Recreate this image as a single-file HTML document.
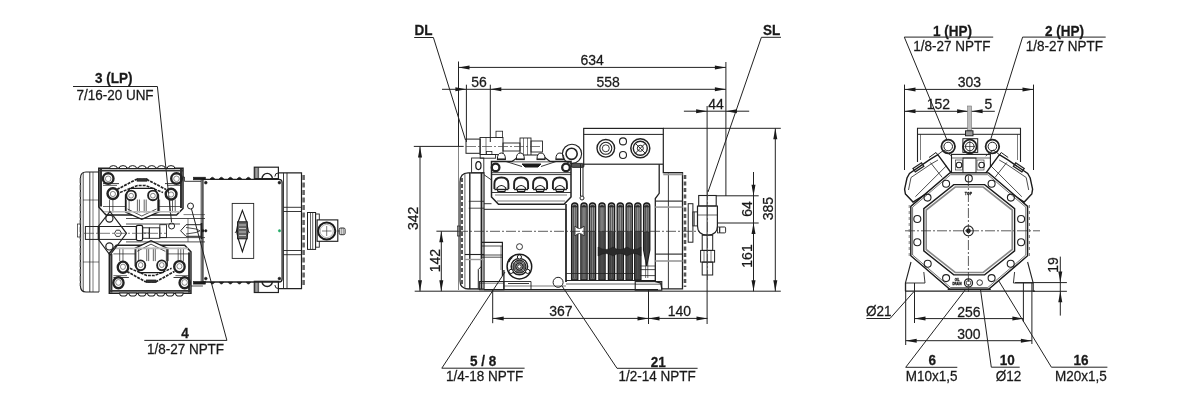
<!DOCTYPE html>
<html><head><meta charset="utf-8"><style>
html,body{margin:0;padding:0;background:#fff;}
svg{display:block;font-family:"Liberation Sans",sans-serif;will-change:transform;}
</style></head><body>
<svg width="1180" height="407" viewBox="0 0 1180 407">
<rect width="1180" height="407" fill="#fff"/>
<text x="0" y="0" transform="translate(95 83.4) scale(1 1.05)" font-size="13.5" font-weight="bold" text-anchor="start" fill="#1a1a1a" stroke="#1a1a1a" stroke-width="0.25">3 (LP)</text>
<line x1="73" y1="86.5" x2="157.4" y2="86.5" stroke="#222" stroke-width="1.0" />
<text x="0" y="0" transform="translate(76.4 99.8) scale(1 1.05)" font-size="13.5" font-weight="normal" text-anchor="start" fill="#1a1a1a" stroke="#1a1a1a" stroke-width="0.25">7/16-20 UNF</text>
<line x1="157.4" y1="86.5" x2="171.5" y2="222" stroke="#222" stroke-width="1.0" />
<circle cx="171.6" cy="226" r="3" stroke="#222" stroke-width="1.0" fill="none"/>
<text x="0" y="0" transform="translate(181.3 338.2) scale(1 1.05)" font-size="13.5" font-weight="bold" text-anchor="start" fill="#1a1a1a" stroke="#1a1a1a" stroke-width="0.25">4</text>
<line x1="144.3" y1="340.4" x2="226.9" y2="340.4" stroke="#222" stroke-width="1.0" />
<text x="0" y="0" transform="translate(146.9 354.1) scale(1 1.05)" font-size="13.5" font-weight="normal" text-anchor="start" fill="#1a1a1a" stroke="#1a1a1a" stroke-width="0.25">1/8-27 NPTF</text>
<line x1="226.9" y1="340.4" x2="191.5" y2="209" stroke="#222" stroke-width="1.0" />
<circle cx="190.5" cy="206" r="3" stroke="#222" stroke-width="1.0" fill="none"/>
<text x="0" y="0" transform="translate(414.6 35.2) scale(1 1.05)" font-size="13.5" font-weight="bold" text-anchor="start" fill="#1a1a1a" stroke="#1a1a1a" stroke-width="0.25">DL</text>
<line x1="414.2" y1="37.5" x2="433.4" y2="37.5" stroke="#222" stroke-width="1.0" />
<line x1="433.4" y1="37.5" x2="465.5" y2="140" stroke="#222" stroke-width="1.0" />
<text x="0" y="0" transform="translate(762.9 35.0) scale(1 1.05)" font-size="13.5" font-weight="bold" text-anchor="start" fill="#1a1a1a" stroke="#1a1a1a" stroke-width="0.25">SL</text>
<line x1="761.4" y1="37.3" x2="781" y2="37.3" stroke="#222" stroke-width="1.0" />
<line x1="761.4" y1="37.3" x2="708" y2="192" stroke="#222" stroke-width="1.0" />
<text x="0" y="0" transform="translate(470 366.1) scale(1 1.05)" font-size="13.5" font-weight="bold" text-anchor="start" fill="#1a1a1a" stroke="#1a1a1a" stroke-width="0.25">5 / 8</text>
<line x1="441.8" y1="368.2" x2="524.6" y2="368.2" stroke="#222" stroke-width="1.0" />
<text x="0" y="0" transform="translate(446 380.8) scale(1 1.05)" font-size="13.5" font-weight="normal" text-anchor="start" fill="#1a1a1a" stroke="#1a1a1a" stroke-width="0.25">1/4-18 NPTF</text>
<line x1="441.8" y1="368.2" x2="505" y2="272" stroke="#222" stroke-width="1.0" />
<text x="0" y="0" transform="translate(650.8 367.0) scale(1 1.05)" font-size="13.5" font-weight="bold" text-anchor="start" fill="#1a1a1a" stroke="#1a1a1a" stroke-width="0.25">21</text>
<line x1="617" y1="368.3" x2="697.6" y2="368.3" stroke="#222" stroke-width="1.0" />
<text x="0" y="0" transform="translate(618.6 380.9) scale(1 1.05)" font-size="13.5" font-weight="normal" text-anchor="start" fill="#1a1a1a" stroke="#1a1a1a" stroke-width="0.25">1/2-14 NPTF</text>
<line x1="617" y1="368.3" x2="562" y2="286" stroke="#222" stroke-width="1.0" />
<line x1="458.5" y1="61.5" x2="458.5" y2="146" stroke="#222" stroke-width="1.0" />
<line x1="458.5" y1="146" x2="458.5" y2="290" stroke="#666" stroke-width="0.8" />
<line x1="725.9" y1="62" x2="725.9" y2="128" stroke="#222" stroke-width="1.0" />
<line x1="458.5" y1="67.4" x2="725.9" y2="67.4" stroke="#222" stroke-width="1.0" />
<path d="M458.5,67.4 L469.5,65.4 L469.5,69.4 Z" fill="#1a1a1a"/>
<path d="M725.9,67.4 L714.9,69.4 L714.9,65.4 Z" fill="#1a1a1a"/>
<text x="0" y="0" transform="translate(580.4 65.2) scale(1 1.05)" font-size="14" font-weight="normal" text-anchor="start" fill="#1a1a1a" stroke="#1a1a1a" stroke-width="0.25">634</text>
<line x1="442" y1="89.3" x2="725.9" y2="89.3" stroke="#222" stroke-width="1.0" />
<path d="M466.4,89.3 L455.4,91.3 L455.4,87.3 Z" fill="#1a1a1a"/>
<path d="M490.3,89.3 L501.3,87.3 L501.3,91.3 Z" fill="#1a1a1a"/>
<path d="M725.9,89.3 L714.9,91.3 L714.9,87.3 Z" fill="#1a1a1a"/>
<line x1="466.4" y1="84.7" x2="466.4" y2="142" stroke="#222" stroke-width="1.0" />
<line x1="490.3" y1="84.7" x2="490.3" y2="142" stroke="#222" stroke-width="1.0" />
<text x="0" y="0" transform="translate(471.2 87.1) scale(1 1.05)" font-size="14" font-weight="normal" text-anchor="start" fill="#1a1a1a" stroke="#1a1a1a" stroke-width="0.25">56</text>
<text x="0" y="0" transform="translate(596.5 87.3) scale(1 1.05)" font-size="14" font-weight="normal" text-anchor="start" fill="#1a1a1a" stroke="#1a1a1a" stroke-width="0.25">558</text>
<line x1="683.9" y1="111.2" x2="749.2" y2="111.2" stroke="#222" stroke-width="1.0" />
<path d="M707.1,111.2 L696.1,113.2 L696.1,109.2 Z" fill="#1a1a1a"/>
<path d="M725.9,111.2 L736.9,109.2 L736.9,113.2 Z" fill="#1a1a1a"/>
<line x1="707.1" y1="106" x2="707.1" y2="324" stroke="#222" stroke-width="1.0" />
<text x="0" y="0" transform="translate(708.2 109.4) scale(1 1.05)" font-size="14" font-weight="normal" text-anchor="start" fill="#1a1a1a" stroke="#1a1a1a" stroke-width="0.25">44</text>
<line x1="725.9" y1="128" x2="725.9" y2="196" stroke="#222" stroke-width="1.0" />
<line x1="663" y1="128.3" x2="780.8" y2="128.3" stroke="#222" stroke-width="1.0" />
<line x1="775.3" y1="128.3" x2="775.3" y2="291.3" stroke="#222" stroke-width="1.0" />
<path d="M775.3,128.3 L777.3,139.3 L773.3,139.3 Z" fill="#1a1a1a"/>
<path d="M775.3,291.3 L773.3,280.3 L777.3,280.3 Z" fill="#1a1a1a"/>
<text x="0" y="0" transform="translate(773 208.7) rotate(-90) scale(1 1.05)" font-size="14" font-weight="normal" text-anchor="middle" fill="#1a1a1a" stroke="#1a1a1a" stroke-width="0.25">385</text>
<line x1="716" y1="195.8" x2="758.7" y2="195.8" stroke="#222" stroke-width="1.0" />
<line x1="717.4" y1="223" x2="758.7" y2="223" stroke="#222" stroke-width="1.0" />
<line x1="753.5" y1="172" x2="753.5" y2="291.3" stroke="#222" stroke-width="1.0" />
<path d="M753.5,195.8 L751.5,184.8 L755.5,184.8 Z" fill="#1a1a1a"/>
<path d="M753.5,223.0 L755.5,234.0 L751.5,234.0 Z" fill="#1a1a1a"/>
<path d="M753.5,291.3 L751.5,280.3 L755.5,280.3 Z" fill="#1a1a1a"/>
<text x="0" y="0" transform="translate(751.6 208.9) rotate(-90) scale(1 1.05)" font-size="14" font-weight="normal" text-anchor="middle" fill="#1a1a1a" stroke="#1a1a1a" stroke-width="0.25">64</text>
<text x="0" y="0" transform="translate(751.6 256.0) rotate(-90) scale(1 1.05)" font-size="14" font-weight="normal" text-anchor="middle" fill="#1a1a1a" stroke="#1a1a1a" stroke-width="0.25">161</text>
<line x1="414.7" y1="291.2" x2="780.8" y2="291.2" stroke="#222" stroke-width="1.0" />
<line x1="413.8" y1="146.4" x2="463.7" y2="146.4" stroke="#222" stroke-width="1.0" />
<line x1="420" y1="146.4" x2="420" y2="291.2" stroke="#222" stroke-width="1.0" />
<path d="M420.0,146.4 L422.0,157.4 L418.0,157.4 Z" fill="#1a1a1a"/>
<path d="M420.0,291.2 L418.0,280.2 L422.0,280.2 Z" fill="#1a1a1a"/>
<text x="0" y="0" transform="translate(418.3 218.4) rotate(-90) scale(1 1.05)" font-size="14" font-weight="normal" text-anchor="middle" fill="#1a1a1a" stroke="#1a1a1a" stroke-width="0.25">342</text>
<line x1="436.4" y1="231.2" x2="458" y2="231.2" stroke="#222" stroke-width="1.0" />
<line x1="441.3" y1="231.2" x2="441.3" y2="291.2" stroke="#222" stroke-width="1.0" />
<path d="M441.3,231.2 L443.3,242.2 L439.3,242.2 Z" fill="#1a1a1a"/>
<path d="M441.3,291.2 L439.3,280.2 L443.3,280.2 Z" fill="#1a1a1a"/>
<text x="0" y="0" transform="translate(440 260.6) rotate(-90) scale(1 1.05)" font-size="14" font-weight="normal" text-anchor="middle" fill="#1a1a1a" stroke="#1a1a1a" stroke-width="0.25">142</text>
<line x1="492.7" y1="289" x2="492.7" y2="323.2" stroke="#222" stroke-width="1.0" />
<line x1="648.5" y1="289" x2="648.5" y2="324" stroke="#222" stroke-width="1.0" />
<line x1="492.7" y1="318.4" x2="707.5" y2="318.4" stroke="#222" stroke-width="1.0" />
<path d="M492.7,318.4 L503.7,316.4 L503.7,320.4 Z" fill="#1a1a1a"/>
<path d="M648.5,318.4 L637.5,320.4 L637.5,316.4 Z" fill="#1a1a1a"/>
<path d="M648.5,318.4 L659.5,316.4 L659.5,320.4 Z" fill="#1a1a1a"/>
<path d="M707.5,318.4 L696.5,320.4 L696.5,316.4 Z" fill="#1a1a1a"/>
<text x="0" y="0" transform="translate(549.2 316.2) scale(1 1.05)" font-size="14" font-weight="normal" text-anchor="start" fill="#1a1a1a" stroke="#1a1a1a" stroke-width="0.25">367</text>
<text x="0" y="0" transform="translate(667.8 316.2) scale(1 1.05)" font-size="14" font-weight="normal" text-anchor="start" fill="#1a1a1a" stroke="#1a1a1a" stroke-width="0.25">140</text>
<text x="0" y="0" transform="translate(933 35.6) scale(1 1.05)" font-size="13.5" font-weight="bold" text-anchor="start" fill="#1a1a1a" stroke="#1a1a1a" stroke-width="0.25">1 (HP)</text>
<line x1="904.3" y1="37.1" x2="993.2" y2="37.1" stroke="#222" stroke-width="1.0" />
<text x="0" y="0" transform="translate(913.3 51.0) scale(1 1.05)" font-size="13.5" font-weight="normal" text-anchor="start" fill="#1a1a1a" stroke="#1a1a1a" stroke-width="0.25">1/8-27 NPTF</text>
<line x1="904.3" y1="37.1" x2="947" y2="140" stroke="#222" stroke-width="1.0" />
<text x="0" y="0" transform="translate(1045 35.6) scale(1 1.05)" font-size="13.5" font-weight="bold" text-anchor="start" fill="#1a1a1a" stroke="#1a1a1a" stroke-width="0.25">2 (HP)</text>
<line x1="1022.6" y1="37.1" x2="1105.7" y2="37.1" stroke="#222" stroke-width="1.0" />
<text x="0" y="0" transform="translate(1025.8 51.0) scale(1 1.05)" font-size="13.5" font-weight="normal" text-anchor="start" fill="#1a1a1a" stroke="#1a1a1a" stroke-width="0.25">1/8-27 NPTF</text>
<line x1="1022.6" y1="37.1" x2="990.5" y2="140" stroke="#222" stroke-width="1.0" />
<line x1="904.5" y1="84.6" x2="904.5" y2="170" stroke="#222" stroke-width="1.0" />
<line x1="1033.5" y1="84.6" x2="1033.5" y2="170" stroke="#222" stroke-width="1.0" />
<line x1="904.5" y1="89.4" x2="1033.5" y2="89.4" stroke="#222" stroke-width="1.0" />
<path d="M904.5,89.4 L915.5,87.4 L915.5,91.4 Z" fill="#1a1a1a"/>
<path d="M1033.5,89.4 L1022.5,91.4 L1022.5,87.4 Z" fill="#1a1a1a"/>
<text x="0" y="0" transform="translate(957.8 87.1) scale(1 1.05)" font-size="14" font-weight="normal" text-anchor="start" fill="#1a1a1a" stroke="#1a1a1a" stroke-width="0.25">303</text>
<line x1="904.5" y1="111.3" x2="994.8" y2="111.3" stroke="#222" stroke-width="1.0" />
<path d="M904.5,111.3 L915.5,109.3 L915.5,113.3 Z" fill="#1a1a1a"/>
<path d="M968.1,111.3 L957.1,113.3 L957.1,109.3 Z" fill="#1a1a1a"/>
<path d="M971.6,111.3 L982.6,109.3 L982.6,113.3 Z" fill="#1a1a1a"/>
<text x="0" y="0" transform="translate(926.8 109.1) scale(1 1.05)" font-size="14" font-weight="normal" text-anchor="start" fill="#1a1a1a" stroke="#1a1a1a" stroke-width="0.25">152</text>
<text x="0" y="0" transform="translate(984.5 109.1) scale(1 1.05)" font-size="14" font-weight="normal" text-anchor="start" fill="#1a1a1a" stroke="#1a1a1a" stroke-width="0.25">5</text>
<text x="0" y="0" transform="translate(865.9 316.1) scale(1 1.05)" font-size="13.5" font-weight="normal" text-anchor="start" fill="#1a1a1a" stroke="#1a1a1a" stroke-width="0.25">Ø21</text>
<line x1="866.4" y1="318.5" x2="890" y2="318.5" stroke="#222" stroke-width="1.0" />
<line x1="890" y1="318.5" x2="914" y2="291.5" stroke="#222" stroke-width="1.0" />
<line x1="905.7" y1="283" x2="905.7" y2="345" stroke="#222" stroke-width="1.0" />
<line x1="914.5" y1="283" x2="914.5" y2="323" stroke="#222" stroke-width="1.0" />
<line x1="1023.4" y1="283" x2="1023.4" y2="322" stroke="#222" stroke-width="1.0" />
<line x1="1031.9" y1="283" x2="1031.9" y2="344" stroke="#222" stroke-width="1.0" />
<line x1="914.5" y1="318.6" x2="1023.4" y2="318.6" stroke="#222" stroke-width="1.0" />
<path d="M914.5,318.6 L925.5,316.6 L925.5,320.6 Z" fill="#1a1a1a"/>
<path d="M1023.4,318.6 L1012.4,320.6 L1012.4,316.6 Z" fill="#1a1a1a"/>
<text x="0" y="0" transform="translate(957.3 317.0) scale(1 1.05)" font-size="14" font-weight="normal" text-anchor="start" fill="#1a1a1a" stroke="#1a1a1a" stroke-width="0.25">256</text>
<line x1="905.7" y1="340.7" x2="1031.9" y2="340.7" stroke="#222" stroke-width="1.0" />
<path d="M905.7,340.7 L916.7,338.7 L916.7,342.7 Z" fill="#1a1a1a"/>
<path d="M1031.9,340.7 L1020.9,342.7 L1020.9,338.7 Z" fill="#1a1a1a"/>
<text x="0" y="0" transform="translate(957.3 338.8) scale(1 1.05)" font-size="14" font-weight="normal" text-anchor="start" fill="#1a1a1a" stroke="#1a1a1a" stroke-width="0.25">300</text>
<text x="0" y="0" transform="translate(928.4 365.4) scale(1 1.05)" font-size="13.5" font-weight="bold" text-anchor="start" fill="#1a1a1a" stroke="#1a1a1a" stroke-width="0.25">6</text>
<line x1="905.7" y1="367.3" x2="957.3" y2="367.3" stroke="#222" stroke-width="1.0" />
<text x="0" y="0" transform="translate(905.7 380.9) scale(1 1.05)" font-size="13.5" font-weight="normal" text-anchor="start" fill="#1a1a1a" stroke="#1a1a1a" stroke-width="0.25">M10x1,5</text>
<line x1="905.7" y1="367.3" x2="969" y2="285" stroke="#222" stroke-width="1.0" />
<text x="0" y="0" transform="translate(999.8 365.0) scale(1 1.05)" font-size="13.5" font-weight="bold" text-anchor="start" fill="#1a1a1a" stroke="#1a1a1a" stroke-width="0.25">10</text>
<line x1="991.3" y1="367.2" x2="1019.7" y2="367.2" stroke="#222" stroke-width="1.0" />
<text x="0" y="0" transform="translate(995.8 381.2) scale(1 1.05)" font-size="13.5" font-weight="normal" text-anchor="start" fill="#1a1a1a" stroke="#1a1a1a" stroke-width="0.25">Ø12</text>
<line x1="991.3" y1="367.2" x2="980" y2="286" stroke="#222" stroke-width="1.0" />
<text x="0" y="0" transform="translate(1073.5 365.0) scale(1 1.05)" font-size="13.5" font-weight="bold" text-anchor="start" fill="#1a1a1a" stroke="#1a1a1a" stroke-width="0.25">16</text>
<line x1="1051.4" y1="367.2" x2="1107.4" y2="367.2" stroke="#222" stroke-width="1.0" />
<text x="0" y="0" transform="translate(1055.1 381.2) scale(1 1.05)" font-size="13.5" font-weight="normal" text-anchor="start" fill="#1a1a1a" stroke="#1a1a1a" stroke-width="0.25">M20x1,5</text>
<line x1="1051.4" y1="367.2" x2="969" y2="232" stroke="#222" stroke-width="1.0" />
<line x1="1015" y1="282.6" x2="1066.9" y2="282.6" stroke="#222" stroke-width="1.0" />
<line x1="1033" y1="291.3" x2="1066.9" y2="291.3" stroke="#222" stroke-width="1.0" />
<line x1="1060.3" y1="256.6" x2="1060.3" y2="315.6" stroke="#222" stroke-width="1.0" />
<path d="M1060.3,282.6 L1058.3,271.6 L1062.3,271.6 Z" fill="#1a1a1a"/>
<path d="M1060.3,291.3 L1062.3,302.3 L1058.3,302.3 Z" fill="#1a1a1a"/>
<text x="0" y="0" transform="translate(1057.9 265.0) rotate(-90) scale(1 1.05)" font-size="14" font-weight="normal" text-anchor="middle" fill="#1a1a1a" stroke="#1a1a1a" stroke-width="0.25">19</text>
<path d="M468,172.8 L484,172.8 L484,289 L468,289" stroke="#222" stroke-width="1.2" fill="none" />
<path d="M468,172.8 Q460,173 460,182 L460,281 Q460,288.5 468,289" stroke="#222" stroke-width="1.2" fill="none" />
<line x1="461.9" y1="178" x2="461.9" y2="284" stroke="#555" stroke-width="2.2" stroke-dasharray="4,2"/>
<line x1="464.9" y1="174" x2="464.9" y2="288" stroke="#222" stroke-width="0.7" />
<line x1="469.8" y1="172.8" x2="469.8" y2="289" stroke="#222" stroke-width="1.4" />
<line x1="481.5" y1="172.8" x2="481.5" y2="289" stroke="#222" stroke-width="1.8" />
<line x1="468.8" y1="201.3" x2="484" y2="201.3" stroke="#222" stroke-width="0.8" />
<line x1="468.8" y1="208.2" x2="484" y2="208.2" stroke="#222" stroke-width="0.8" />
<line x1="464.9" y1="254.5" x2="484" y2="254.5" stroke="#222" stroke-width="1.1" />
<line x1="464.9" y1="259.5" x2="484" y2="259.5" stroke="#999" stroke-width="1.4" />
<line x1="464.9" y1="288.8" x2="478" y2="288.8" stroke="#222" stroke-width="0.9" />
<rect x="457.5" y="226" width="2.5" height="10" rx="0" stroke="#222" stroke-width="0.7" fill="none" />
<rect x="471.6" y="158" width="12.2" height="14.8" rx="0" stroke="#222" stroke-width="0.9" fill="none" />
<ellipse cx="478.4" cy="165.6" rx="2.6" ry="4" stroke="#1a1a1a" stroke-width="1.2" fill="none"/>
<rect x="466" y="139.1" width="14.2" height="14.2" rx="0" stroke="#222" stroke-width="1.0" fill="none" />
<rect x="480" y="137.5" width="23" height="17" rx="0" stroke="#222" stroke-width="0.9" fill="none" />
<line x1="486" y1="137.5" x2="486" y2="154.5" stroke="#222" stroke-width="0.6" />
<rect x="496" y="131.2" width="6.6" height="6.3" rx="0" stroke="#222" stroke-width="0.8" fill="none" />
<rect x="503" y="143" width="17" height="8" rx="0" stroke="#222" stroke-width="0.9" fill="none" />
<rect x="520" y="138" width="11" height="18" rx="0" stroke="#222" stroke-width="0.9" fill="none" />
<line x1="523.5" y1="138" x2="523.5" y2="156" stroke="#222" stroke-width="0.6" />
<line x1="527.5" y1="138" x2="527.5" y2="156" stroke="#222" stroke-width="0.6" />
<rect x="531" y="141" width="11.5" height="11" rx="0" stroke="#222" stroke-width="0.9" fill="none" />
<line x1="466" y1="146.5" x2="541" y2="146.5" stroke="#444" stroke-width="0.7" stroke-dasharray="10,2,2,2"/>
<rect x="480.2" y="154.5" width="15.4" height="3.7" rx="0" stroke="#222" stroke-width="0.9" fill="none" />
<rect x="486.4" y="151.4" width="5.5" height="3.1" rx="0" stroke="#222" stroke-width="0.8" fill="none" />
<path d="M491.5,161.5 L571,161.5 L571,197 L564,204.2 L498.5,204.2 L491.5,197 Z" stroke="#222" stroke-width="1.5" fill="none" />
<line x1="491.5" y1="172.7" x2="571" y2="172.7" stroke="#222" stroke-width="0.9" />
<line x1="491.5" y1="174.6" x2="571" y2="174.6" stroke="#222" stroke-width="0.9" />
<line x1="491.5" y1="192.5" x2="571" y2="192.5" stroke="#222" stroke-width="0.9" />
<line x1="495" y1="195" x2="567" y2="195" stroke="#222" stroke-width="0.6" />
<line x1="497" y1="201" x2="565" y2="201" stroke="#222" stroke-width="0.6" />
<path d="M512,161.5 L521,155 L541.8,155 L550,161.5" stroke="#1a1a1a" stroke-width="1.1" fill="#fff" />
<path d="M522,164 L541,164 L538,167 L525,167 Z" stroke="#1a1a1a" stroke-width="1" fill="#1a1a1a" />
<path d="M506,161.5 L522,166.5 M556,161.5 L541,166.5" stroke="#222" stroke-width="0.9" fill="none" />
<path d="M497.4,159 Q497.4,153 501.4,153 Q505.4,153 505.4,159 Z" stroke="#1a1a1a" stroke-width="1" fill="#fff" />
<line x1="496.9" y1="159.5" x2="505.9" y2="159.5" stroke="#222" stroke-width="1.2" />
<path d="M516.3,159 Q516.3,153 520.3,153 Q524.3,153 524.3,159 Z" stroke="#1a1a1a" stroke-width="1" fill="#fff" />
<line x1="515.8" y1="159.5" x2="524.8" y2="159.5" stroke="#222" stroke-width="1.2" />
<path d="M537,159 Q537,153 541,153 Q545,153 545,159 Z" stroke="#1a1a1a" stroke-width="1" fill="#fff" />
<line x1="536.5" y1="159.5" x2="545.5" y2="159.5" stroke="#222" stroke-width="1.2" />
<path d="M555.9,159 Q555.9,153 559.9,153 Q563.9,153 563.9,159 Z" stroke="#1a1a1a" stroke-width="1" fill="#fff" />
<line x1="555.4" y1="159.5" x2="564.4" y2="159.5" stroke="#222" stroke-width="1.2" />
<circle cx="495.6" cy="167.4" r="3.8" stroke="#222" stroke-width="2.3" fill="none"/>
<circle cx="566" cy="167.4" r="3.8" stroke="#222" stroke-width="2.3" fill="none"/>
<path d="M494.4,189 L494.4,184 Q494.4,177.5 501.4,177.5 Q508.4,177.5 508.4,184 L508.4,189" stroke="#222" stroke-width="1.9" fill="none" />
<path d="M496.9,188 Q501.4,183 505.9,188 L504.9,191.5 L497.9,191.5 Z" stroke="#1a1a1a" stroke-width="1.1" fill="#fff" />
<line x1="494.4" y1="189.5" x2="508.4" y2="189.5" stroke="#222" stroke-width="1.4" />
<path d="M514.1,189 L514.1,184 Q514.1,177.5 521.1,177.5 Q528.1,177.5 528.1,184 L528.1,189" stroke="#222" stroke-width="1.9" fill="none" />
<path d="M516.6,188 Q521.1,183 525.6,188 L524.6,191.5 L517.6,191.5 Z" stroke="#1a1a1a" stroke-width="1.1" fill="#fff" />
<line x1="514.1" y1="189.5" x2="528.1" y2="189.5" stroke="#222" stroke-width="1.4" />
<path d="M533.1,189 L533.1,184 Q533.1,177.5 540.1,177.5 Q547.1,177.5 547.1,184 L547.1,189" stroke="#222" stroke-width="1.9" fill="none" />
<path d="M535.6,188 Q540.1,183 544.6,188 L543.6,191.5 L536.6,191.5 Z" stroke="#1a1a1a" stroke-width="1.1" fill="#fff" />
<line x1="533.1" y1="189.5" x2="547.1" y2="189.5" stroke="#222" stroke-width="1.4" />
<path d="M552.9,189 L552.9,184 Q552.9,177.5 559.9,177.5 Q566.9,177.5 566.9,184 L566.9,189" stroke="#222" stroke-width="1.9" fill="none" />
<path d="M555.4,188 Q559.9,183 564.4,188 L563.4,191.5 L556.4,191.5 Z" stroke="#1a1a1a" stroke-width="1.1" fill="#fff" />
<line x1="552.9" y1="189.5" x2="566.9" y2="189.5" stroke="#222" stroke-width="1.4" />
<path d="M484,174.7 L491.5,180" stroke="#222" stroke-width="0.9" fill="none" />
<circle cx="572" cy="153.8" r="9.6" stroke="#222" stroke-width="1.1" fill="none"/>
<circle cx="571.6" cy="153.8" r="5.6" stroke="#222" stroke-width="1.6" fill="none"/>
<rect x="571.4" y="163.4" width="12.6" height="4" rx="1.5" stroke="#1a1a1a" stroke-width="0.8" fill="#555" />
<line x1="484" y1="203.7" x2="491.5" y2="203.7" stroke="#222" stroke-width="0.9" />
<line x1="484" y1="209.3" x2="566" y2="209.3" stroke="#222" stroke-width="1" />
<line x1="484" y1="289.6" x2="658" y2="289.6" stroke="#222" stroke-width="1.3" />
<path d="M481.8,242.4 L502.4,242.4 L502.4,276" stroke="#222" stroke-width="1.2" fill="none" />
<line x1="481.8" y1="246" x2="502.4" y2="246" stroke="#222" stroke-width="0.8" />
<line x1="481.8" y1="255" x2="502.4" y2="255" stroke="#222" stroke-width="0.8" />
<line x1="481.8" y1="257.2" x2="502.4" y2="257.2" stroke="#222" stroke-width="0.8" />
<line x1="501" y1="246" x2="501" y2="270" stroke="#222" stroke-width="0.6" />
<path d="M481.8,266 L478.3,269.5 L478.3,289.6" stroke="#222" stroke-width="1.0" fill="none" />
<rect x="479.6" y="281.5" width="24.3" height="8.3" rx="0" stroke="#222" stroke-width="1.0" fill="none" />
<line x1="479.6" y1="283.2" x2="503.9" y2="283.2" stroke="#222" stroke-width="0.6" />
<line x1="503.9" y1="270" x2="503.9" y2="290" stroke="#222" stroke-width="1.3" />
<circle cx="519.4" cy="266.6" r="12.3" stroke="#1a1a1a" stroke-width="1.5" fill="#fff"/>
<circle cx="519.4" cy="266.6" r="8.2" stroke="#222" stroke-width="1.5" fill="none"/>
<circle cx="519.4" cy="266.6" r="6.5" stroke="#1a1a1a" stroke-width="1" fill="#666"/>
<path d="M514.5,262 L524.3,271.2 M524.3,262 L514.5,271.2" stroke="#ccc" stroke-width="0.8" fill="none" />
<circle cx="519.4" cy="266.6" r="3.6" stroke="#1a1a1a" stroke-width="0.9" fill="#999"/>
<circle cx="519.4" cy="266.6" r="1.8" stroke="#1a1a1a" stroke-width="0.8" fill="#fff"/>
<circle cx="519.4" cy="257.0" r="2.1" stroke="#1a1a1a" stroke-width="1.0" fill="#fff"/>
<circle cx="511.08615612366935" cy="271.40000000000003" r="2.1" stroke="#1a1a1a" stroke-width="1.0" fill="#fff"/>
<circle cx="527.7138438763305" cy="271.40000000000003" r="2.1" stroke="#1a1a1a" stroke-width="1.0" fill="#fff"/>
<path d="M508.5,262 A11,11 0 0 1 512,257" stroke="#222" stroke-width="2.2" fill="none" />
<circle cx="519.5" cy="246.7" r="3" stroke="#222" stroke-width="0.9" fill="none"/>
<circle cx="558.1" cy="282.3" r="5" stroke="#222" stroke-width="1" fill="none"/>
<path d="M504,281.5 L531,281.5 L531,289.6 M508,283.5 L529,283.5" stroke="#222" stroke-width="0.9" fill="none" />
<line x1="504" y1="286" x2="566" y2="286" stroke="#222" stroke-width="0.6" />
<rect x="583.7" y="128.4" width="79.6" height="35.8" rx="0" stroke="#222" stroke-width="1.2" fill="none" />
<line x1="583.7" y1="134.4" x2="663.3" y2="134.4" stroke="#222" stroke-width="1" />
<line x1="580.5" y1="164.2" x2="580.5" y2="196" stroke="#222" stroke-width="1.0" />
<line x1="583" y1="164.2" x2="583" y2="196" stroke="#222" stroke-width="1.0" />
<circle cx="582" cy="198" r="2" stroke="#222" stroke-width="1.0" fill="none"/>
<circle cx="605.8" cy="148.3" r="8.8" stroke="#222" stroke-width="1.4" fill="none"/>
<circle cx="605.8" cy="148.3" r="6" stroke="#222" stroke-width="1.1" fill="none"/>
<circle cx="605.8" cy="148.3" r="3.5" stroke="#222" stroke-width="0.9" fill="none"/>
<circle cx="640.3" cy="148.3" r="9.5" stroke="#222" stroke-width="1.5" fill="none"/>
<circle cx="640.3" cy="148.3" r="7" stroke="#222" stroke-width="1.4" fill="none"/>
<circle cx="640.3" cy="148.3" r="3" stroke="#222" stroke-width="1" fill="none"/>
<path d="M635.3,143.3 L645.3,153.3 M645.3,143.3 L635.3,153.3" stroke="#222" stroke-width="0.9" fill="none" />
<circle cx="623" cy="141.4" r="3.5" stroke="#222" stroke-width="1.1" fill="none"/>
<circle cx="623" cy="155" r="3.5" stroke="#222" stroke-width="1.1" fill="none"/>
<line x1="566" y1="209.3" x2="566" y2="282" stroke="#222" stroke-width="0.9" />
<path d="M571.6,280 L571.6,206 Q571.6,203 574.7,203 Q577.8000000000001,203 577.8000000000001,206 L577.8000000000001,280 Z" stroke="#1a1a1a" stroke-width="1.3" fill="#9a9a9a" />
<path d="M572.3000000000001,231.5 L572.3000000000001,279 L577.1,279 L577.1,231.5 Z" stroke="#1a1a1a" stroke-width="0.4" fill="#7a7a7a" />
<line x1="573.6" y1="207" x2="573.6" y2="278" stroke="#333" stroke-width="0.7" />
<line x1="575.8000000000001" y1="207" x2="575.8000000000001" y2="278" stroke="#333" stroke-width="0.7" />
<path d="M572.1,207 Q574.7,203.3 577.3000000000001,207 Z" stroke="#1a1a1a" stroke-width="0.5" fill="#333" />
<path d="M580.9,280 L580.9,206 Q580.9,203 584,203 Q587.1,203 587.1,206 L587.1,280 Z" stroke="#1a1a1a" stroke-width="1.3" fill="#9a9a9a" />
<path d="M581.6,231.5 L581.6,279 L586.4,279 L586.4,231.5 Z" stroke="#1a1a1a" stroke-width="0.4" fill="#7a7a7a" />
<line x1="582.9" y1="207" x2="582.9" y2="278" stroke="#333" stroke-width="0.7" />
<line x1="585.1" y1="207" x2="585.1" y2="278" stroke="#333" stroke-width="0.7" />
<path d="M581.4,207 Q584,203.3 586.6,207 Z" stroke="#1a1a1a" stroke-width="0.5" fill="#333" />
<path d="M589.4,280 L589.4,206 Q589.4,203 592.5,203 Q595.6,203 595.6,206 L595.6,280 Z" stroke="#1a1a1a" stroke-width="1.3" fill="#9a9a9a" />
<path d="M590.1,231.5 L590.1,279 L594.9,279 L594.9,231.5 Z" stroke="#1a1a1a" stroke-width="0.4" fill="#7a7a7a" />
<line x1="591.4" y1="207" x2="591.4" y2="278" stroke="#333" stroke-width="0.7" />
<line x1="593.6" y1="207" x2="593.6" y2="278" stroke="#333" stroke-width="0.7" />
<path d="M589.9,207 Q592.5,203.3 595.1,207 Z" stroke="#1a1a1a" stroke-width="0.5" fill="#333" />
<path d="M598.9,280 L598.9,206 Q598.9,203 602,203 Q605.1,203 605.1,206 L605.1,280 Z" stroke="#1a1a1a" stroke-width="1.3" fill="#9a9a9a" />
<path d="M599.6,231.5 L599.6,279 L604.4,279 L604.4,231.5 Z" stroke="#1a1a1a" stroke-width="0.4" fill="#555" />
<line x1="600.9" y1="207" x2="600.9" y2="278" stroke="#333" stroke-width="0.7" />
<line x1="603.1" y1="207" x2="603.1" y2="278" stroke="#333" stroke-width="0.7" />
<path d="M599.4,207 Q602,203.3 604.6,207 Z" stroke="#1a1a1a" stroke-width="0.5" fill="#333" />
<path d="M608.4,280 L608.4,206 Q608.4,203 611.5,203 Q614.6,203 614.6,206 L614.6,280 Z" stroke="#1a1a1a" stroke-width="1.3" fill="#9a9a9a" />
<path d="M609.1,231.5 L609.1,279 L613.9,279 L613.9,231.5 Z" stroke="#1a1a1a" stroke-width="0.4" fill="#555" />
<line x1="610.4" y1="207" x2="610.4" y2="278" stroke="#333" stroke-width="0.7" />
<line x1="612.6" y1="207" x2="612.6" y2="278" stroke="#333" stroke-width="0.7" />
<path d="M608.9,207 Q611.5,203.3 614.1,207 Z" stroke="#1a1a1a" stroke-width="0.5" fill="#333" />
<path d="M617.1999999999999,280 L617.1999999999999,206 Q617.1999999999999,203 620.3,203 Q623.4,203 623.4,206 L623.4,280 Z" stroke="#1a1a1a" stroke-width="1.3" fill="#9a9a9a" />
<path d="M617.9,231.5 L617.9,279 L622.6999999999999,279 L622.6999999999999,231.5 Z" stroke="#1a1a1a" stroke-width="0.4" fill="#555" />
<line x1="619.1999999999999" y1="207" x2="619.1999999999999" y2="278" stroke="#333" stroke-width="0.7" />
<line x1="621.4" y1="207" x2="621.4" y2="278" stroke="#333" stroke-width="0.7" />
<path d="M617.6999999999999,207 Q620.3,203.3 622.9,207 Z" stroke="#1a1a1a" stroke-width="0.5" fill="#333" />
<path d="M626.1,280 L626.1,206 Q626.1,203 629.2,203 Q632.3000000000001,203 632.3000000000001,206 L632.3000000000001,280 Z" stroke="#1a1a1a" stroke-width="1.3" fill="#9a9a9a" />
<path d="M626.8000000000001,231.5 L626.8000000000001,279 L631.6,279 L631.6,231.5 Z" stroke="#1a1a1a" stroke-width="0.4" fill="#555" />
<line x1="628.1" y1="207" x2="628.1" y2="278" stroke="#333" stroke-width="0.7" />
<line x1="630.3000000000001" y1="207" x2="630.3000000000001" y2="278" stroke="#333" stroke-width="0.7" />
<path d="M626.6,207 Q629.2,203.3 631.8000000000001,207 Z" stroke="#1a1a1a" stroke-width="0.5" fill="#333" />
<path d="M634.6999999999999,280 L634.6999999999999,206 Q634.6999999999999,203 637.8,203 Q640.9,203 640.9,206 L640.9,280 Z" stroke="#1a1a1a" stroke-width="1.3" fill="#9a9a9a" />
<path d="M635.4,231.5 L635.4,279 L640.1999999999999,279 L640.1999999999999,231.5 Z" stroke="#1a1a1a" stroke-width="0.4" fill="#555" />
<line x1="636.6999999999999" y1="207" x2="636.6999999999999" y2="278" stroke="#333" stroke-width="0.7" />
<line x1="638.9" y1="207" x2="638.9" y2="278" stroke="#333" stroke-width="0.7" />
<path d="M635.1999999999999,207 Q637.8,203.3 640.4,207 Z" stroke="#1a1a1a" stroke-width="0.5" fill="#333" />
<path d="M643.6,250 L643.6,206 Q643.6,203 646.7,203 Q649.8000000000001,203 649.8000000000001,206 L649.8000000000001,250 L646.7,266 Z" stroke="#1a1a1a" stroke-width="1.3" fill="#8c8c8c" />
<path d="M644.3000000000001,232 L644.3000000000001,250 L646.7,263 L649.1,250 L649.1,232 Z" stroke="#1a1a1a" stroke-width="0.5" fill="#4a4a4a" />
<line x1="645.6" y1="207" x2="645.6" y2="278" stroke="#333" stroke-width="0.7" />
<line x1="647.8000000000001" y1="207" x2="647.8000000000001" y2="278" stroke="#333" stroke-width="0.7" />
<path d="M644.1,207 Q646.7,203.3 649.3000000000001,207 Z" stroke="#1a1a1a" stroke-width="0.5" fill="#333" />
<path d="M598,247 Q606,252 613,247 Q620,252 627,247 Q634,252 641,247 L641,256 Q634,251 627,256 Q620,251 613,256 Q606,251 598,256 Z" stroke="#1a1a1a" stroke-width="0.5" fill="#2a2a2a" />
<line x1="640" y1="266" x2="655" y2="266" stroke="#222" stroke-width="0.7" />
<line x1="566" y1="204" x2="566" y2="282" stroke="#222" stroke-width="1.6" />
<line x1="566" y1="273.5" x2="634" y2="273.5" stroke="#222" stroke-width="0.8" />
<line x1="566" y1="280.5" x2="656" y2="280.5" stroke="#222" stroke-width="1.2" />
<line x1="566" y1="284" x2="636" y2="284" stroke="#222" stroke-width="0.7" />
<rect x="635.2" y="281.6" width="26.6" height="8.6" rx="0" stroke="#222" stroke-width="1.1" fill="none" />
<line x1="635.2" y1="284.2" x2="661.8" y2="284.2" stroke="#222" stroke-width="0.7" />
<line x1="640" y1="269.6" x2="655.3" y2="269.6" stroke="#222" stroke-width="0.8" />
<line x1="640" y1="275.6" x2="655.3" y2="275.6" stroke="#222" stroke-width="0.8" />
<path d="M575,226 Q579.4,231 584,226 L584,236 Q579.4,231 575,236 Z" stroke="#1a1a1a" stroke-width="0.8" fill="#fff" />
<path d="M659.2,164.2 L659.2,193.4 L655.3,198.5 L655.3,281.6 L660.8,283 L661.8,288.8 L682.5,288.8 L682.5,172.7 L663.3,172.7 L663.3,164.2" stroke="#222" stroke-width="1.3" fill="none" />
<line x1="668.4" y1="172.7" x2="668.4" y2="288.8" stroke="#222" stroke-width="0.9" />
<line x1="663.3" y1="174.3" x2="682.5" y2="174.3" stroke="#999" stroke-width="2.0" />
<line x1="685" y1="175" x2="685" y2="287" stroke="#555" stroke-width="2.6" stroke-dasharray="4,2.5"/>
<line x1="655.3" y1="201.1" x2="682.5" y2="201.1" stroke="#222" stroke-width="1.1" />
<line x1="655.3" y1="207.1" x2="682.5" y2="207.1" stroke="#999" stroke-width="1.6" />
<line x1="655.3" y1="254.1" x2="682.5" y2="254.1" stroke="#222" stroke-width="1.1" />
<line x1="655.3" y1="261" x2="682.5" y2="261" stroke="#999" stroke-width="1.6" />
<rect x="688.2" y="203.7" width="4.7" height="38.5" rx="0" stroke="#222" stroke-width="1.0" fill="none" />
<rect x="692.9" y="211.9" width="4.6" height="14" rx="0" stroke="#222" stroke-width="0.9" fill="none" />
<line x1="694.5" y1="211.9" x2="694.5" y2="225.9" stroke="#222" stroke-width="0.6" />
<rect x="698.7" y="195.5" width="17.5" height="10.5" rx="0" stroke="#222" stroke-width="1.1" fill="none" />
<path d="M697.5,206 L697.5,226 Q697.5,235.2 707.5,235.2 Q717.4,235.2 717.4,226 L717.4,206 Z" stroke="#222" stroke-width="1.2" fill="none" />
<line x1="697.5" y1="215" x2="717.4" y2="215" stroke="#222" stroke-width="0.7" />
<rect x="717.4" y="227" width="2.3" height="5.9" rx="0" stroke="#222" stroke-width="0.8" fill="none" />
<rect x="719.7" y="227" width="5.9" height="5.9" rx="1" stroke="#1a1a1a" stroke-width="0.9" fill="none" />
<rect x="702.2" y="235.2" width="10.5" height="15.2" rx="0" stroke="#222" stroke-width="1.0" fill="none" />
<rect x="700.6" y="250.4" width="14" height="11.7" rx="0" stroke="#222" stroke-width="1.0" fill="none" />
<line x1="704" y1="250.4" x2="704" y2="262.1" stroke="#222" stroke-width="0.6" />
<line x1="711" y1="250.4" x2="711" y2="262.1" stroke="#222" stroke-width="0.6" />
<rect x="702.2" y="262.1" width="10.5" height="12.9" rx="0" stroke="#222" stroke-width="1.0" fill="none" />
<line x1="707.5" y1="190" x2="707.5" y2="280" stroke="#444" stroke-width="0.7" stroke-dasharray="10,2,2,2"/>
<line x1="458" y1="231.3" x2="700" y2="231.3" stroke="#333" stroke-width="0.8" stroke-dasharray="10,2,2,2"/>
<path d="M99,172 L86,172 Q80.5,172 80.5,178 L80.5,286 Q80.5,292 86,292 L99,292" stroke="#222" stroke-width="1.2" fill="none" />
<line x1="80.4" y1="178" x2="80.4" y2="286" stroke="#555" stroke-width="1.4" stroke-dasharray="5,2"/>
<line x1="83.2" y1="172.5" x2="83.2" y2="291.5" stroke="#222" stroke-width="0.8" />
<line x1="89.8" y1="172" x2="89.8" y2="292" stroke="#222" stroke-width="0.9" />
<line x1="93" y1="172" x2="93" y2="292" stroke="#222" stroke-width="0.6" />
<rect x="77.5" y="224" width="3" height="13" rx="0" stroke="#222" stroke-width="0.7" fill="none" />
<line x1="83" y1="200" x2="99" y2="200" stroke="#222" stroke-width="0.6" />
<line x1="83" y1="262" x2="99" y2="262" stroke="#222" stroke-width="0.6" />
<path d="M98.8,168.3 L183,168.3 L183,208.5 L176.5,215 L106,215 L98.8,207 Z" stroke="#222" stroke-width="1.5" fill="none" />
<line x1="100.9" y1="169" x2="100.9" y2="206.5" stroke="#333" stroke-width="2.2" />
<line x1="181" y1="169" x2="181" y2="208" stroke="#333" stroke-width="2.0" />
<line x1="99" y1="170.6" x2="183" y2="170.6" stroke="#333" stroke-width="1.8" />
<path d="M109.4,168.6 Q109.4,165.6 113.4,165.6 Q117.4,165.6 117.4,168.6 Z" stroke="#1a1a1a" stroke-width="1.0" fill="#fff" />
<path d="M119.0,168.6 Q119.0,165.6 123.0,165.6 Q127.0,165.6 127.0,168.6 Z" stroke="#1a1a1a" stroke-width="1.0" fill="#fff" />
<path d="M128.6,168.6 Q128.6,165.6 132.6,165.6 Q136.6,165.6 136.6,168.6 Z" stroke="#1a1a1a" stroke-width="1.0" fill="#fff" />
<path d="M138.2,168.6 Q138.2,165.6 142.2,165.6 Q146.2,165.6 146.2,168.6 Z" stroke="#1a1a1a" stroke-width="1.0" fill="#fff" />
<path d="M147.8,168.6 Q147.8,165.6 151.8,165.6 Q155.8,165.6 155.8,168.6 Z" stroke="#1a1a1a" stroke-width="1.0" fill="#fff" />
<path d="M157.4,168.6 Q157.4,165.6 161.4,165.6 Q165.4,165.6 165.4,168.6 Z" stroke="#1a1a1a" stroke-width="1.0" fill="#fff" />
<path d="M167.0,168.6 Q167.0,165.6 171.0,165.6 Q175.0,165.6 175.0,168.6 Z" stroke="#1a1a1a" stroke-width="1.0" fill="#fff" />
<circle cx="108.2" cy="178.5" r="5.3" stroke="#222" stroke-width="2.4" fill="none"/>
<circle cx="108.2" cy="178.8" r="2.8" stroke="#555" stroke-width="0.7" fill="#fff"/>
<circle cx="176.5" cy="178.5" r="5.3" stroke="#222" stroke-width="2.4" fill="none"/>
<circle cx="176.5" cy="178.8" r="2.8" stroke="#555" stroke-width="0.7" fill="#fff"/>
<line x1="103" y1="183.6" x2="119" y2="183.6" stroke="#222" stroke-width="0.9" />
<line x1="103" y1="185.4" x2="117" y2="185.4" stroke="#222" stroke-width="0.7" />
<line x1="165" y1="183.6" x2="181" y2="183.6" stroke="#222" stroke-width="0.9" />
<line x1="167" y1="185.4" x2="181" y2="185.4" stroke="#222" stroke-width="0.7" />
<path d="M117,189.5 L136,179.5 L147,179.5 L166,189.5" stroke="#222" stroke-width="1.7" fill="none" stroke-dasharray="3,1"/>
<path d="M120,192.5 L137.5,185.5 L145.5,185.5 L163,192.5" stroke="#222" stroke-width="1.5" fill="none" stroke-dasharray="3,1"/>
<rect x="137" y="178.6" width="10" height="2.6" rx="0" stroke="#1a1a1a" stroke-width="0.6" fill="#333" />
<path d="M125.5,200 L125.5,195 L130,188.3 L154,188.3 L158.5,195 L158.5,212 L141.8,219.3 L125.5,212 Z" stroke="#1a1a1a" stroke-width="1.3" fill="#fff" />
<circle cx="112.9" cy="193.6" r="5.4" stroke="#222" stroke-width="2.4" fill="none"/>
<circle cx="112.9" cy="194.0" r="2.6" stroke="#555" stroke-width="0.7" fill="#fff"/>
<circle cx="171.1" cy="194.1" r="5.4" stroke="#222" stroke-width="2.4" fill="none"/>
<circle cx="171.1" cy="194.5" r="2.6" stroke="#555" stroke-width="0.7" fill="#fff"/>
<circle cx="131.1" cy="195.4" r="4.8" stroke="#222" stroke-width="1.9" fill="none"/>
<circle cx="131.1" cy="195.70000000000002" r="2.4" stroke="#555" stroke-width="0.7" fill="#fff"/>
<circle cx="152.9" cy="195.4" r="4.8" stroke="#222" stroke-width="1.9" fill="none"/>
<circle cx="152.9" cy="195.70000000000002" r="2.4" stroke="#555" stroke-width="0.7" fill="#fff"/>
<path d="M127.5,209 L141.8,216 L156.5,209" stroke="#222" stroke-width="0.8" fill="none" />
<line x1="109.5" y1="199.5" x2="109.5" y2="212.5" stroke="#222" stroke-width="0.7" />
<line x1="112.9" y1="199.5" x2="112.9" y2="212.5" stroke="#222" stroke-width="0.7" />
<line x1="126.4" y1="199.5" x2="126.4" y2="212.5" stroke="#222" stroke-width="0.7" />
<line x1="129.1" y1="199.5" x2="129.1" y2="212.5" stroke="#222" stroke-width="0.7" />
<line x1="137.4" y1="199.5" x2="137.4" y2="212.5" stroke="#222" stroke-width="0.7" />
<line x1="139.4" y1="199.5" x2="139.4" y2="212.5" stroke="#222" stroke-width="0.7" />
<line x1="144.2" y1="199.5" x2="144.2" y2="212.5" stroke="#222" stroke-width="0.7" />
<line x1="146.2" y1="199.5" x2="146.2" y2="212.5" stroke="#222" stroke-width="0.7" />
<line x1="157.6" y1="199.5" x2="157.6" y2="212.5" stroke="#222" stroke-width="0.7" />
<line x1="159.6" y1="199.5" x2="159.6" y2="212.5" stroke="#222" stroke-width="0.7" />
<line x1="169.8" y1="199.5" x2="169.8" y2="212.5" stroke="#222" stroke-width="0.7" />
<line x1="172.5" y1="199.5" x2="172.5" y2="212.5" stroke="#222" stroke-width="0.7" />
<line x1="175.2" y1="199.5" x2="175.2" y2="212.5" stroke="#222" stroke-width="0.7" />
<line x1="103" y1="206.5" x2="125.5" y2="206.5" stroke="#222" stroke-width="0.7" />
<line x1="158.5" y1="206.5" x2="181" y2="206.5" stroke="#222" stroke-width="0.7" />
<line x1="104" y1="211.8" x2="180" y2="211.8" stroke="#bbb" stroke-width="1.6" />
<g transform="matrix(0.97,0,0,-1.03,13.46,466.6)">
<path d="M98.8,168.3 L183,168.3 L183,208.5 L176.5,215 L106,215 L98.8,207 Z" stroke="#222" stroke-width="1.5" fill="none" />
<line x1="100.9" y1="169" x2="100.9" y2="206.5" stroke="#333" stroke-width="2.2" />
<line x1="181" y1="169" x2="181" y2="208" stroke="#333" stroke-width="2.0" />
<line x1="99" y1="170.6" x2="183" y2="170.6" stroke="#333" stroke-width="1.8" />
<path d="M109.4,168.6 Q109.4,165.6 113.4,165.6 Q117.4,165.6 117.4,168.6 Z" stroke="#1a1a1a" stroke-width="1.0" fill="#fff" />
<path d="M119.0,168.6 Q119.0,165.6 123.0,165.6 Q127.0,165.6 127.0,168.6 Z" stroke="#1a1a1a" stroke-width="1.0" fill="#fff" />
<path d="M128.6,168.6 Q128.6,165.6 132.6,165.6 Q136.6,165.6 136.6,168.6 Z" stroke="#1a1a1a" stroke-width="1.0" fill="#fff" />
<path d="M138.2,168.6 Q138.2,165.6 142.2,165.6 Q146.2,165.6 146.2,168.6 Z" stroke="#1a1a1a" stroke-width="1.0" fill="#fff" />
<path d="M147.8,168.6 Q147.8,165.6 151.8,165.6 Q155.8,165.6 155.8,168.6 Z" stroke="#1a1a1a" stroke-width="1.0" fill="#fff" />
<path d="M157.4,168.6 Q157.4,165.6 161.4,165.6 Q165.4,165.6 165.4,168.6 Z" stroke="#1a1a1a" stroke-width="1.0" fill="#fff" />
<path d="M167.0,168.6 Q167.0,165.6 171.0,165.6 Q175.0,165.6 175.0,168.6 Z" stroke="#1a1a1a" stroke-width="1.0" fill="#fff" />
<circle cx="108.2" cy="178.5" r="5.3" stroke="#222" stroke-width="2.4" fill="none"/>
<circle cx="108.2" cy="178.8" r="2.8" stroke="#555" stroke-width="0.7" fill="#fff"/>
<circle cx="176.5" cy="178.5" r="5.3" stroke="#222" stroke-width="2.4" fill="none"/>
<circle cx="176.5" cy="178.8" r="2.8" stroke="#555" stroke-width="0.7" fill="#fff"/>
<line x1="103" y1="183.6" x2="119" y2="183.6" stroke="#222" stroke-width="0.9" />
<line x1="103" y1="185.4" x2="117" y2="185.4" stroke="#222" stroke-width="0.7" />
<line x1="165" y1="183.6" x2="181" y2="183.6" stroke="#222" stroke-width="0.9" />
<line x1="167" y1="185.4" x2="181" y2="185.4" stroke="#222" stroke-width="0.7" />
<path d="M117,189.5 L136,179.5 L147,179.5 L166,189.5" stroke="#222" stroke-width="1.7" fill="none" stroke-dasharray="3,1"/>
<path d="M120,192.5 L137.5,185.5 L145.5,185.5 L163,192.5" stroke="#222" stroke-width="1.5" fill="none" stroke-dasharray="3,1"/>
<rect x="137" y="178.6" width="10" height="2.6" rx="0" stroke="#1a1a1a" stroke-width="0.6" fill="#333" />
<path d="M125.5,200 L125.5,195 L130,188.3 L154,188.3 L158.5,195 L158.5,212 L141.8,219.3 L125.5,212 Z" stroke="#1a1a1a" stroke-width="1.3" fill="#fff" />
<circle cx="112.9" cy="193.6" r="5.4" stroke="#222" stroke-width="2.4" fill="none"/>
<circle cx="112.9" cy="194.0" r="2.6" stroke="#555" stroke-width="0.7" fill="#fff"/>
<circle cx="171.1" cy="194.1" r="5.4" stroke="#222" stroke-width="2.4" fill="none"/>
<circle cx="171.1" cy="194.5" r="2.6" stroke="#555" stroke-width="0.7" fill="#fff"/>
<circle cx="131.1" cy="195.4" r="4.8" stroke="#222" stroke-width="1.9" fill="none"/>
<circle cx="131.1" cy="195.70000000000002" r="2.4" stroke="#555" stroke-width="0.7" fill="#fff"/>
<circle cx="152.9" cy="195.4" r="4.8" stroke="#222" stroke-width="1.9" fill="none"/>
<circle cx="152.9" cy="195.70000000000002" r="2.4" stroke="#555" stroke-width="0.7" fill="#fff"/>
<path d="M127.5,209 L141.8,216 L156.5,209" stroke="#222" stroke-width="0.8" fill="none" />
<line x1="109.5" y1="199.5" x2="109.5" y2="212.5" stroke="#222" stroke-width="0.7" />
<line x1="112.9" y1="199.5" x2="112.9" y2="212.5" stroke="#222" stroke-width="0.7" />
<line x1="126.4" y1="199.5" x2="126.4" y2="212.5" stroke="#222" stroke-width="0.7" />
<line x1="129.1" y1="199.5" x2="129.1" y2="212.5" stroke="#222" stroke-width="0.7" />
<line x1="137.4" y1="199.5" x2="137.4" y2="212.5" stroke="#222" stroke-width="0.7" />
<line x1="139.4" y1="199.5" x2="139.4" y2="212.5" stroke="#222" stroke-width="0.7" />
<line x1="144.2" y1="199.5" x2="144.2" y2="212.5" stroke="#222" stroke-width="0.7" />
<line x1="146.2" y1="199.5" x2="146.2" y2="212.5" stroke="#222" stroke-width="0.7" />
<line x1="157.6" y1="199.5" x2="157.6" y2="212.5" stroke="#222" stroke-width="0.7" />
<line x1="159.6" y1="199.5" x2="159.6" y2="212.5" stroke="#222" stroke-width="0.7" />
<line x1="169.8" y1="199.5" x2="169.8" y2="212.5" stroke="#222" stroke-width="0.7" />
<line x1="172.5" y1="199.5" x2="172.5" y2="212.5" stroke="#222" stroke-width="0.7" />
<line x1="175.2" y1="199.5" x2="175.2" y2="212.5" stroke="#222" stroke-width="0.7" />
<line x1="103" y1="206.5" x2="125.5" y2="206.5" stroke="#222" stroke-width="0.7" />
<line x1="158.5" y1="206.5" x2="181" y2="206.5" stroke="#222" stroke-width="0.7" />
<line x1="104" y1="211.8" x2="180" y2="211.8" stroke="#bbb" stroke-width="1.6" />
</g>
<rect x="85.4" y="226.5" width="13.6" height="12.9" rx="0" stroke="#222" stroke-width="1" fill="none" />
<path d="M110,211.5 L126.5,233.3 L110,255 L98.3,239.4 L98.3,226.5 Z" stroke="#222" stroke-width="1.2" fill="none" />
<line x1="98.3" y1="233.3" x2="98.3" y2="226.5" stroke="#222" stroke-width="1" />
<circle cx="109.4" cy="218.6" r="3.6" stroke="#222" stroke-width="1.2" fill="none"/>
<circle cx="109.4" cy="246.4" r="3.6" stroke="#222" stroke-width="1.2" fill="none"/>
<rect x="99" y="226.5" width="37.4" height="12.9" rx="0" stroke="#222" stroke-width="1" fill="none" />
<path d="M114.5,233.3 L116.3,230.2 L119.7,230.2 L121.5,233.3 L119.7,236.4 L116.3,236.4 Z" stroke="#222" stroke-width="0.9" fill="none" />
<rect x="136.4" y="225.3" width="6.2" height="15.3" rx="1.5" stroke="#1a1a1a" stroke-width="1.3" fill="#fff" />
<rect x="142.6" y="227.8" width="6.7" height="10.5" rx="0" stroke="#222" stroke-width="0.9" fill="none" />
<line x1="142.6" y1="233" x2="149.3" y2="233" stroke="#222" stroke-width="0.7" />
<rect x="149.3" y="227.8" width="10.5" height="10.5" rx="0" stroke="#222" stroke-width="0.9" fill="none" />
<rect x="159.8" y="224.7" width="6.7" height="12.9" rx="0" stroke="#222" stroke-width="0.9" fill="none" />
<line x1="84" y1="233.3" x2="166" y2="233.3" stroke="#444" stroke-width="0.7" stroke-dasharray="10,2,2,2"/>
<line x1="126" y1="218.5" x2="205" y2="218.5" stroke="#222" stroke-width="0.8" />
<line x1="126" y1="224" x2="180" y2="224" stroke="#222" stroke-width="0.8" />
<line x1="160" y1="237.6" x2="205" y2="237.6" stroke="#222" stroke-width="0.8" />
<line x1="126" y1="241.9" x2="205" y2="241.9" stroke="#222" stroke-width="0.8" />
<line x1="183.5" y1="214.6" x2="205" y2="214.6" stroke="#222" stroke-width="0.6" />
<path d="M201.5,224.7 L186,224.7 L180.6,230.8 L186,236.3 L201.5,236.3" stroke="#222" stroke-width="1" fill="none" />
<path d="M186,227.5 L196,229 L200,230.8 L196,232.5 L186,234" stroke="#222" stroke-width="0.8" fill="none" />
<line x1="201.5" y1="223" x2="201.5" y2="239" stroke="#222" stroke-width="1.8" />
<circle cx="205.8" cy="230.8" r="1.2" stroke="#1a1a1a" stroke-width="0.5" fill="#1a1a1a"/>
<line x1="99" y1="172" x2="99" y2="292" stroke="#222" stroke-width="0.8" />
<path d="M183,177 L184.4,177 L184.4,181.3 L201.2,181.3" stroke="#222" stroke-width="0.9" fill="none" />
<line x1="191" y1="286" x2="202.9" y2="286" stroke="#222" stroke-width="0.8" />
<line x1="188" y1="218.5" x2="188" y2="241.9" stroke="#222" stroke-width="0.6" />
<path d="M202.9,179.3 L279,179.3 Q282.1,179.3 282.1,182.5 L282.1,279 Q282.1,282 279,282 L202.9,282 Z" stroke="#222" stroke-width="1.3" fill="none" />
<line x1="201.2" y1="179.3" x2="201.2" y2="282" stroke="#222" stroke-width="0.9" />
<path d="M210.1,179 Q212.4,175.5 214.70000000000002,179 Z" stroke="#1a1a1a" stroke-width="0.6" fill="#1a1a1a" />
<path d="M219.1,179 Q221.4,175.5 223.70000000000002,179 Z" stroke="#1a1a1a" stroke-width="0.6" fill="#1a1a1a" />
<path d="M228.1,179 Q230.4,175.5 232.70000000000002,179 Z" stroke="#1a1a1a" stroke-width="0.6" fill="#1a1a1a" />
<path d="M237.1,179 Q239.4,175.5 241.70000000000002,179 Z" stroke="#1a1a1a" stroke-width="0.6" fill="#1a1a1a" />
<path d="M246.1,179 Q248.4,175.5 250.70000000000002,179 Z" stroke="#1a1a1a" stroke-width="0.6" fill="#1a1a1a" />
<rect x="193.4" y="177.2" width="12" height="2.6" rx="0" stroke="#1a1a1a" stroke-width="0.6" fill="#1a1a1a" />
<circle cx="205.8" cy="182.7" r="1.4" stroke="#1a1a1a" stroke-width="0.5" fill="#1a1a1a"/>
<circle cx="279.4" cy="182.7" r="1.4" stroke="#1a1a1a" stroke-width="0.5" fill="#1a1a1a"/>
<circle cx="205.8" cy="278.6" r="1.4" stroke="#1a1a1a" stroke-width="0.5" fill="#1a1a1a"/>
<circle cx="279.4" cy="278.6" r="1.4" stroke="#1a1a1a" stroke-width="0.5" fill="#1a1a1a"/>
<path d="M210.1,282.3 Q212.4,285.8 214.70000000000002,282.3 Z" stroke="#1a1a1a" stroke-width="0.6" fill="#1a1a1a" />
<path d="M219.1,282.3 Q221.4,285.8 223.70000000000002,282.3 Z" stroke="#1a1a1a" stroke-width="0.6" fill="#1a1a1a" />
<path d="M228.1,282.3 Q230.4,285.8 232.70000000000002,282.3 Z" stroke="#1a1a1a" stroke-width="0.6" fill="#1a1a1a" />
<path d="M237.1,282.3 Q239.4,285.8 241.70000000000002,282.3 Z" stroke="#1a1a1a" stroke-width="0.6" fill="#1a1a1a" />
<path d="M246.1,282.3 Q248.4,285.8 250.70000000000002,282.3 Z" stroke="#1a1a1a" stroke-width="0.6" fill="#1a1a1a" />
<rect x="193.4" y="281.5" width="12" height="2.6" rx="0" stroke="#1a1a1a" stroke-width="0.6" fill="#1a1a1a" />
<circle cx="202.9" cy="230.8" r="1.2" stroke="#1a1a1a" stroke-width="0.5" fill="#1a1a1a"/>
<circle cx="279.5" cy="230.8" r="1.2" stroke="#2a6" stroke-width="0.5" fill="#2a6"/>
<rect x="232.2" y="203.4" width="21.5" height="55" rx="0" stroke="#222" stroke-width="0.9" fill="none" />
<path d="M242.4,210.4 L246.5,221.5 L248.3,231 L246.5,239 L242.4,251.6 L238.3,239 L236.5,231 L238.3,221.5 Z" stroke="#1a1a1a" stroke-width="1.1" fill="none" />
<rect x="237.6" y="221.8" width="9.6" height="17" rx="0" stroke="#1a1a1a" stroke-width="1.0" fill="#666" />
<path d="M239,225 L246,225 M239,228.5 L246,228.5 M239,232 L246,232 M239,235.5 L246,235.5" stroke="#ddd" stroke-width="0.8" fill="none" />
<path d="M236.5,231 L235,233 M248.3,231 L249.8,233" stroke="#222" stroke-width="0.8" fill="none" />
<rect x="254.3" y="167.2" width="24.1" height="11.400000000000006" rx="0" stroke="#222" stroke-width="1.2" fill="none" />
<line x1="255.8" y1="167.2" x2="255.8" y2="178.6" stroke="#222" stroke-width="0.8" />
<line x1="257.2" y1="167.2" x2="257.2" y2="178.6" stroke="#222" stroke-width="0.8" />
<line x1="258.6" y1="167.2" x2="258.6" y2="178.6" stroke="#222" stroke-width="0.8" />
<path d="M262,178.6 A5.2,5.2 0 0 1 272.4,178.6" stroke="#222" stroke-width="1.4" fill="none" />
<rect x="254.3" y="281.3" width="24.1" height="11.199999999999989" rx="0" stroke="#222" stroke-width="1.2" fill="none" />
<line x1="255.8" y1="281.3" x2="255.8" y2="292.5" stroke="#222" stroke-width="0.8" />
<line x1="257.2" y1="281.3" x2="257.2" y2="292.5" stroke="#222" stroke-width="0.8" />
<line x1="258.6" y1="281.3" x2="258.6" y2="292.5" stroke="#222" stroke-width="0.8" />
<path d="M262,281.3 A5.2,5.2 0 0 0 272.4,281.3" stroke="#222" stroke-width="1.4" fill="none" />
<path d="M278.5,172.9 L301.5,172.9 L301.5,288.6 L278.5,288.6" stroke="#222" stroke-width="1.2" fill="none" />
<path d="M278.5,172.9 Q274.9,172.9 274.9,176.5 M278.5,288.6 Q274.9,288.6 274.9,285" stroke="#222" stroke-width="1.0" fill="none" />
<line x1="283.5" y1="172.9" x2="283.5" y2="288.6" stroke="#222" stroke-width="0.9" />
<line x1="287" y1="172.9" x2="287" y2="288.6" stroke="#222" stroke-width="0.9" />
<line x1="303.6" y1="175" x2="303.6" y2="286" stroke="#666" stroke-width="2.6" stroke-dasharray="5,2.5"/>
<line x1="283.5" y1="207.3" x2="301.5" y2="207.3" stroke="#222" stroke-width="0.9" />
<line x1="283.5" y1="211.5" x2="301.5" y2="211.5" stroke="#222" stroke-width="0.9" />
<line x1="283.5" y1="250.5" x2="301.5" y2="250.5" stroke="#222" stroke-width="0.9" />
<line x1="283.5" y1="254.7" x2="301.5" y2="254.7" stroke="#222" stroke-width="0.9" />
<rect x="307.5" y="212.5" width="8.1" height="36.9" rx="0" stroke="#222" stroke-width="1.0" fill="none" />
<line x1="310.5" y1="212.5" x2="310.5" y2="249.4" stroke="#222" stroke-width="0.7" />
<line x1="312.7" y1="212.5" x2="312.7" y2="249.4" stroke="#222" stroke-width="0.7" />
<rect x="315.6" y="214" width="3.7" height="33.2" rx="0" stroke="#222" stroke-width="0.9" fill="none" />
<rect x="317.1" y="219.9" width="20.7" height="21.4" rx="0" stroke="#1a1a1a" stroke-width="1.1" fill="#fff" />
<circle cx="326.7" cy="231" r="8.6" stroke="#1a1a1a" stroke-width="2.0" fill="#fff"/>
<circle cx="326.7" cy="231" r="6.6" stroke="#777" stroke-width="0.6" fill="none"/>
<line x1="326.7" y1="226" x2="326.7" y2="236" stroke="#222" stroke-width="0.6" />
<line x1="322" y1="231" x2="331.5" y2="231" stroke="#222" stroke-width="0.6" />
<rect x="339.2" y="228" width="5.9" height="6.7" rx="1.5" stroke="#1a1a1a" stroke-width="0.9" fill="#fff" />
<line x1="337.8" y1="231" x2="339.2" y2="231" stroke="#222" stroke-width="0.8" />
<line x1="341.2" y1="228" x2="341.2" y2="234.7" stroke="#222" stroke-width="0.6" />
<line x1="343.2" y1="228" x2="343.2" y2="234.7" stroke="#222" stroke-width="0.6" />
<path d="M917.5,162 L917.5,128.3 L1020.5,128.3 L1020.5,162" stroke="#222" stroke-width="1.1" fill="none" />
<line x1="917.5" y1="134.3" x2="1020.5" y2="134.3" stroke="#222" stroke-width="1" />
<line x1="920.5" y1="134.3" x2="920.5" y2="160" stroke="#222" stroke-width="0.6" />
<line x1="1017.5" y1="134.3" x2="1017.5" y2="160" stroke="#222" stroke-width="0.6" />
<rect x="967.6" y="106" width="4" height="25" rx="0" stroke="#777" stroke-width="0.6" fill="#bbb" />
<rect x="965.5" y="130.8" width="7.5" height="5" rx="0" stroke="#1a1a1a" stroke-width="0.9" fill="#999" />
<rect x="962.9" y="138.7" width="14.8" height="13.7" rx="0" stroke="#222" stroke-width="1" fill="none" />
<circle cx="948.2" cy="146.5" r="6.8" stroke="#222" stroke-width="1.8" fill="none"/>
<circle cx="948.2" cy="146.5" r="4.3" stroke="#222" stroke-width="1" fill="none"/>
<circle cx="969.8" cy="146.5" r="6.8" stroke="#222" stroke-width="1.8" fill="none"/>
<circle cx="969.8" cy="146.5" r="4.3" stroke="#222" stroke-width="1" fill="none"/>
<circle cx="992.4" cy="146.5" r="6.8" stroke="#222" stroke-width="1.8" fill="none"/>
<circle cx="992.4" cy="146.5" r="4.3" stroke="#222" stroke-width="1" fill="none"/>
<line x1="969.8" y1="141" x2="969.8" y2="152" stroke="#222" stroke-width="0.7" />
<line x1="964.5" y1="146.5" x2="975" y2="146.5" stroke="#222" stroke-width="0.7" />
<rect x="951.5" y="154.4" width="38.9" height="18.7" rx="0" stroke="#222" stroke-width="1.1" fill="none" />
<line x1="951.5" y1="158" x2="990.4" y2="158" stroke="#222" stroke-width="0.7" />
<rect x="963" y="158" width="13" height="15" rx="0" stroke="#222" stroke-width="0.9" fill="none" />
<circle cx="959" cy="165" r="2.8" stroke="#222" stroke-width="1.1" fill="none"/>
<circle cx="981.6" cy="165" r="2.8" stroke="#222" stroke-width="1.1" fill="none"/>
<rect x="955.5" y="160" width="7" height="10" rx="0" stroke="#222" stroke-width="0.6" fill="none" />
<rect x="977" y="160" width="7" height="10" rx="0" stroke="#222" stroke-width="0.6" fill="none" />
<path d="M905.4,194.0 L904.6,189.2 L907.0,178.0 L909.5,173.5 L929.7,159.7 L937.8,154.6 L952.0,174.0 L945.0,182.0 L913.0,202.0 Z" stroke="#1a1a1a" stroke-width="1.4" fill="#fff" />
<path d="M908.5,190.0 L911.0,177.5 L931.0,164.0 L938.0,160.0" stroke="#222" stroke-width="0.8" fill="none" />
<path d="M946.4,165.8 L915.4,196.7" stroke="#222" stroke-width="0.8" fill="none" />
<path d="M930.4,162.5 L942.2,177.4" stroke="#222" stroke-width="0.8" fill="none" />
<path d="M913.0,168.5 L921.5,162.8 L923.8,166.2 L915.3,171.9 Z" stroke="#222" stroke-width="1.3" fill="none" />
<path d="M929.0,157.5 L936.0,152.5 L938.5,156.0" stroke="#222" stroke-width="1.0" fill="none" />
<path d="M905.4,194.0 L913.0,202.0" stroke="#222" stroke-width="0.9" fill="none" />
<path d="M937.8,154.6 L944.0,150.0 L951.5,156.0" stroke="#222" stroke-width="0.9" fill="none" />
<path d="M1031.8,194.0 L1032.6,189.2 L1030.2,178.0 L1027.7,173.5 L1007.5,159.7 L999.4,154.6 L985.2,174.0 L992.2,182.0 L1024.2,202.0 Z" stroke="#1a1a1a" stroke-width="1.4" fill="#fff" />
<path d="M1028.7,190.0 L1026.2,177.5 L1006.2,164.0 L999.2,160.0" stroke="#222" stroke-width="0.8" fill="none" />
<path d="M990.8,165.8 L1021.8,196.7" stroke="#222" stroke-width="0.8" fill="none" />
<path d="M1006.8,162.5 L995.0,177.4" stroke="#222" stroke-width="0.8" fill="none" />
<path d="M1024.2,168.5 L1015.7,162.8 L1013.4,166.2 L1021.9,171.9 Z" stroke="#222" stroke-width="1.3" fill="none" />
<path d="M1008.2,157.5 L1001.2,152.5 L998.7,156.0" stroke="#222" stroke-width="1.0" fill="none" />
<path d="M1031.8,194.0 L1024.2,202.0" stroke="#222" stroke-width="0.9" fill="none" />
<path d="M999.4,154.6 L993.2,150.0 L985.7,156.0" stroke="#222" stroke-width="0.9" fill="none" />
<path d="M949.8,172.9 L988.5999999999999,172.9 L1027.6,206.4 L1027.6,255.8 L988.5999999999999,289.3 L949.8,289.3 L910.8,255.8 L910.8,206.4 Z" stroke="#1a1a1a" stroke-width="1.4" fill="#fff" />
<path d="M950.6,174.7 L987.8,174.7 L1025.8,207.2 L1025.8,255.0 L987.8,287.5 L950.6,287.5 L912.6,255.0 L912.6,207.2 Z" stroke="#1a1a1a" stroke-width="0.6" fill="none" />
<path d="M953.8,184.6 L984.6,184.6 L1014.6,208.6 L1014.6,250.89999999999998 L984.6,274.9 L953.8,274.9 L923.8,250.89999999999998 L923.8,208.6 Z" stroke="#1a1a1a" stroke-width="1.4" fill="none" />
<path d="M955.2,187 L983.2,187 L1012.2,210 L1012.2,249.5 L983.2,272.5 L955.2,272.5 L926.2,249.5 L926.2,210 Z" stroke="#888" stroke-width="1.6" fill="none" />
<circle cx="968.8" cy="178.4" r="3.5" stroke="#222" stroke-width="1.1" fill="none"/>
<circle cx="946.1" cy="183.7" r="3.5" stroke="#222" stroke-width="1.1" fill="none"/>
<circle cx="991.6" cy="183.7" r="3.5" stroke="#222" stroke-width="1.1" fill="none"/>
<circle cx="927.5" cy="197.6" r="3.5" stroke="#222" stroke-width="1.1" fill="none"/>
<circle cx="1010.9" cy="197.6" r="3.5" stroke="#222" stroke-width="1.1" fill="none"/>
<circle cx="917.3" cy="219" r="3.5" stroke="#222" stroke-width="1.1" fill="none"/>
<circle cx="1021.1" cy="219" r="3.5" stroke="#222" stroke-width="1.1" fill="none"/>
<circle cx="917.3" cy="242.2" r="3.5" stroke="#222" stroke-width="1.1" fill="none"/>
<circle cx="1021.1" cy="242.2" r="3.5" stroke="#222" stroke-width="1.1" fill="none"/>
<circle cx="927.7" cy="263.8" r="3.5" stroke="#222" stroke-width="1.1" fill="none"/>
<circle cx="1010.7" cy="263.8" r="3.5" stroke="#222" stroke-width="1.1" fill="none"/>
<circle cx="946.1" cy="278.1" r="3.5" stroke="#222" stroke-width="1.1" fill="none"/>
<circle cx="991.6" cy="278.1" r="3.5" stroke="#222" stroke-width="1.1" fill="none"/>
<circle cx="968.4000000000001" cy="230.8" r="4.9" stroke="#222" stroke-width="1.1" fill="none"/>
<circle cx="968.4000000000001" cy="230.8" r="2" stroke="#1a1a1a" stroke-width="0.8" fill="#1a1a1a"/>
<line x1="905" y1="230.8" x2="1040" y2="230.8" stroke="#333" stroke-width="0.8" stroke-dasharray="10,2,2,2"/>
<line x1="968.4" y1="176" x2="968.4" y2="292" stroke="#333" stroke-width="0.8" stroke-dasharray="10,2,2,2"/>
<text x="0" y="0" transform="translate(968.4 195.4) scale(1 1.05)" font-size="3.5" font-weight="bold" text-anchor="middle" fill="#1a1a1a" stroke="#1a1a1a" stroke-width="0.25">TOP</text>
<circle cx="968.5" cy="282.9" r="4" stroke="#222" stroke-width="1.3" fill="none"/>
<circle cx="968.5" cy="282.9" r="2.3" stroke="#222" stroke-width="0.8" fill="none"/>
<circle cx="979.7" cy="282.6" r="2.8" stroke="#222" stroke-width="0.9" fill="none"/>
<text x="0" y="0" transform="translate(957 281.4) scale(1 1.05)" font-size="2.8" font-weight="bold" text-anchor="middle" fill="#1a1a1a" stroke="#1a1a1a" stroke-width="0.25">OIL</text>
<text x="0" y="0" transform="translate(957 284.9) scale(1 1.05)" font-size="2.8" font-weight="bold" text-anchor="middle" fill="#1a1a1a" stroke="#1a1a1a" stroke-width="0.25">DRAIN</text>
<path d="M911,262 L905.4,283 L905.4,291.2" stroke="#222" stroke-width="1.1" fill="none" />
<path d="M923.8,272 L925,283 L905.4,283" stroke="#222" stroke-width="0.9" fill="none" />
<path d="M1027.6,262 L1033.2,283 L1033.2,291.2" stroke="#222" stroke-width="1.1" fill="none" />
<path d="M1014.6,272 L1013.4,283 L1033.2,283" stroke="#222" stroke-width="0.9" fill="none" />
<line x1="905.4" y1="291.2" x2="1035" y2="291.2" stroke="#222" stroke-width="1.2" />
<line x1="947.7" y1="289.3" x2="990.8" y2="289.3" stroke="#222" stroke-width="1.2" />
<line x1="1029.3" y1="205" x2="1029.3" y2="256" stroke="#666" stroke-width="1.0" stroke-dasharray="3,3"/>
<line x1="909.2" y1="205" x2="909.2" y2="256" stroke="#666" stroke-width="0.8" stroke-dasharray="3,3"/>
</svg>
</body></html>
